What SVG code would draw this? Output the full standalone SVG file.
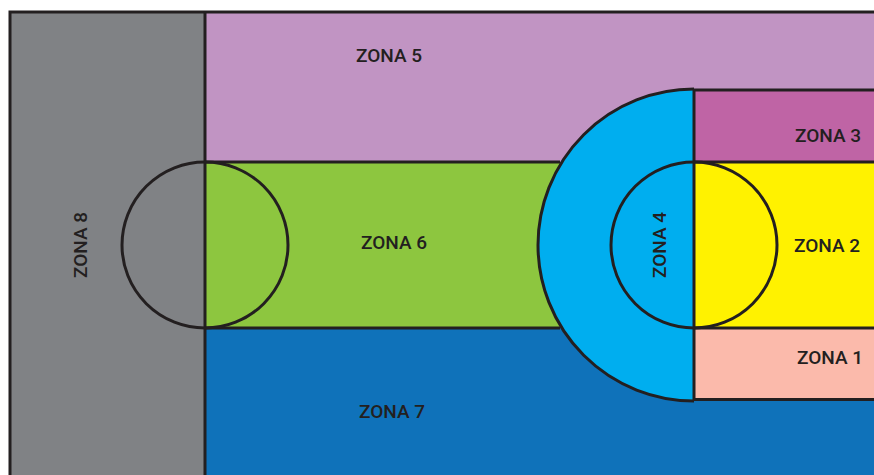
<svg xmlns="http://www.w3.org/2000/svg" width="874" height="475" viewBox="0 0 874 475">
<style>
.ln{fill:none;stroke:#231f20;stroke-width:3}
.t{font-family:Roboto,"Liberation Sans",Arial,sans-serif;font-size:19px;font-weight:500;fill:#231f20;text-anchor:middle}
</style>
<rect width="874" height="475" fill="#ffffff"/>
<g id="zona8"><rect x="10" y="12" width="195" height="470" fill="#808285"/>
<text class="t" transform="translate(87,245) rotate(-90)">ZONA 8</text></g>
<g id="zona5"><rect x="205" y="12" width="680" height="150" fill="#c194c3"/>
<text class="t" x="389" y="62">ZONA 5</text></g>
<g id="zona6"><rect x="205" y="162" width="500" height="166" fill="#8dc63f"/>
<path d="M205,162 A83,83 0 0 1 205,328 Z" fill="#8dc63f"/>
<text class="t" x="394" y="249">ZONA 6</text></g>
<g id="zona7"><rect x="205" y="328" width="680" height="155" fill="#0f72ba"/>
<text class="t" x="392" y="418">ZONA 7</text></g>
<g id="zona3"><rect x="694" y="90" width="190" height="72" fill="#bf64a5"/>
<text class="t" x="828" y="142">ZONA 3</text></g>
<g id="zona2"><rect x="694" y="162" width="190" height="166" fill="#fff200"/>
<text class="t" x="827" y="252">ZONA 2</text></g>
<g id="zona1"><rect x="694" y="328" width="190" height="72" fill="#fbbaab"/>
<text class="t" x="830" y="364">ZONA 1</text></g>
<g id="zona4"><path d="M694,89 A156,156 0 0 0 694,401 Z" fill="#00aeef"/>
<text class="t" transform="translate(666,245) rotate(-90)">ZONA 4</text></g>
<g id="lines">
<path class="ln" d="M10,485 V12 H885"/>
<path class="ln" d="M205,12 V485"/>
<path class="ln" d="M205,162 H560 M205,328 H560"/>
<circle class="ln" cx="205" cy="245" r="83"/>
<path class="ln" d="M694,89 A156,156 0 0 0 694,401"/>
<path class="ln" d="M694,89 V401"/>
<path class="ln" d="M694,90 H885 M694,162 H885 M694,328 H885 M694,399.5 H885"/>
<circle class="ln" cx="694" cy="245" r="83"/>
</g>
</svg>
